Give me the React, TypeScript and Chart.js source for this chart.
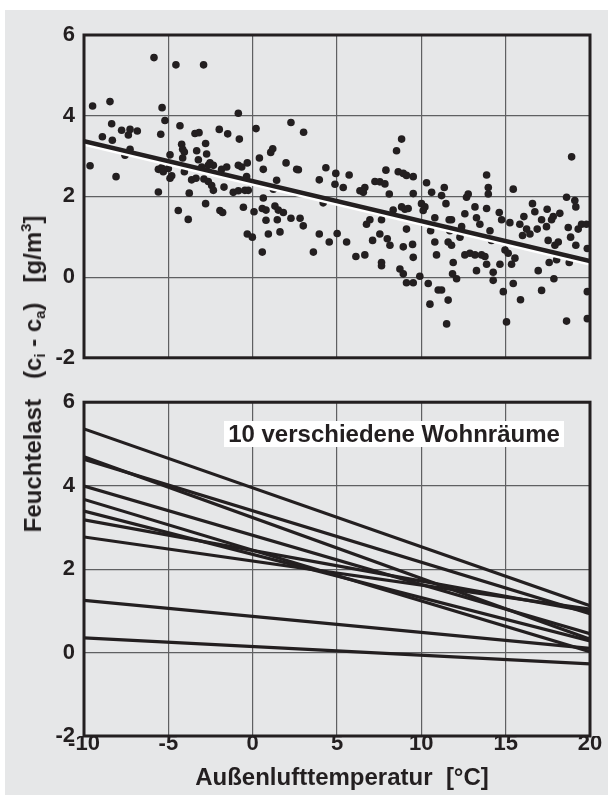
import React, { useEffect, useRef } from "react";
import { Chart, registerables } from "chart.js";

Chart.register(...registerables);

const FONT = "'Liberation Sans', Arial, sans-serif";
const INK = "#231f20";
const BG = "#e6e7e8";
const GRID = "#5f6062";

// Top panel: measured points (Außenlufttemperatur °C, Feuchtelast g/m³)
const tempX = [
  -5.85, -4.55, -2.91, -9.49, -8.46, -5.37, -0.85, 2.27, 3.02, -8.36,
  -5.2, -4.31, -8.91, -8.32, -7.77, -7.37, -7.27, -6.84, -5.45, -9.64,
  -8.1, -7.57, -7.27, -5.59, -5.4, -5.3, -5.59, -4.9, -5.0, -4.9,
  -4.8, -4.21, -4.15, -4.05, -4.15, -4.05, -3.62, -3.76, -4.41, -3.82,
  -3.42, -3.18, -2.79, -2.73, -3.32, -3.22, -2.53, -2.63, -2.33, -3.02,
  -3.36, -2.89, -2.63, -2.43, -2.33, -2.79, -1.94, -1.78, -1.98, -1.48,
  -1.84, -1.54, -1.7, -1.15, -0.85, -0.85, -0.79, -0.65, -0.32, -0.36,
  -0.46, -0.26, -0.55, -0.32, -0.02, 0.08, 0.2, 0.4, 0.63, 0.63,
  0.57, 0.79, 0.79, 0.93, 0.57, 1.07, 1.19, 1.42, 1.23, 1.32,
  1.52, 1.46, 1.82, 1.62, 1.98, 2.61, 2.71, 2.27, 2.81, 3.0,
  3.6, 3.95, 3.95,
  4.34, 4.18, 4.54, 4.93, 4.88, 5.37, 5.72, 5.01, 5.57, 6.12,
  6.36, 6.65, 6.56, 6.65, 6.75, 6.95, 7.11, 7.25, 7.54, 7.84,
  7.54, 7.64, 7.98, 7.64, 7.64, 7.9, 8.1, 8.14, 8.53, 8.83,
  8.63, 8.93, 9.12, 8.33, 8.83, 9.12, 8.93, 8.73, 8.93, 9.12,
  9.52, 9.48, 9.52, 9.52, 9.52, 9.03, 9.22, 9.91, 10.01, 10.11,
  10.21, 10.31, 10.41, 10.51, 10.55, 10.61, 10.8, 10.9, 10.8, 11.0,
  11.2, 11.2, 11.36, 11.46, 11.5, 11.59, 11.65, 11.79, 11.59, 11.79,
  11.69, 11.85, 12.09, 11.89, 12.29, 12.39, 12.58, 12.68, 12.78, 12.58,
  12.88, 13.18, 13.27, 13.47, 13.18, 13.27, 13.57, 13.77, 13.87, 13.97,
  13.97, 13.87, 14.07, 14.16, 13.87, 14.26, 14.26, 14.62, 14.76, 14.66,
  14.86, 15.05, 14.96, 15.15, 15.35, 15.45, 15.25, 15.55, 15.45, 15.88,
  15.84, 16.0, 16.08, 16.24, 16.44, 16.59, 16.73, 16.87, 16.93, 17.13,
  17.13, 17.42, 17.46, 17.52, 17.58, 17.72, 17.82, 17.92, 17.86, 18.02,
  18.12, 18.21, 18.61, 18.61, 18.71, 18.85, 18.91, 19.1, 19.16, 19.16,
  19.3, 19.5, 19.8, 19.84, 19.84, 19.84, 18.77,
];
const loadY = [
  5.44, 5.26, 5.26, 4.24, 4.35, 4.2, 4.06, 3.83, 3.59, 3.8,
  3.88, 3.75, 3.48, 3.39, 3.64, 3.52, 3.66, 3.62, 3.54, 2.76,
  2.49, 3.02, 3.17, 2.67, 2.71, 2.61, 2.11, 3.03, 2.69, 2.45,
  2.51, 3.29, 3.17, 3.1, 2.95, 2.61, 2.41, 2.08, 1.65, 1.43,
  3.56, 3.58, 3.31, 3.05, 3.13, 2.91, 2.83, 2.77, 2.77, 2.73,
  2.45, 2.43, 2.37, 2.27, 2.15, 1.82, 1.65, 1.6, 3.66, 3.55,
  2.67, 2.73, 2.23, 2.1, 2.14, 2.77, 3.42, 2.73, 2.83, 2.49,
  2.15, 2.15, 1.73, 1.07, 0.99, 1.62, 3.68, 2.95, 2.67, 1.96,
  1.7, 1.66, 1.41, 1.07, 0.62, 3.09, 3.18, 2.4, 2.18, 1.76,
  1.66, 1.42, 1.6, 1.12, 2.83, 2.67, 2.66, 1.46, 1.46, 1.27,
  0.62, 2.41, 1.07,
  2.71, 1.84, 0.87, 2.57, 2.3, 2.22, 2.53, 1.08, 0.87, 0.51,
  2.14, 2.22, 2.1, 0.55, 1.31, 1.42, 0.91, 2.37, 2.36, 2.31,
  1.07, 1.42, 0.95, 0.36, 0.28, 2.65, 2.06, 0.79, 3.13, 3.42,
  2.61, 2.57, 2.52, 1.66, 1.74, 1.19, 0.75, 0.2, 0.08, -0.14,
  -0.14, 0.81, 0.49, 2.49, 2.07, 1.68, 1.7, 0.02, 1.82, 1.65,
  1.74, 2.34, -0.16, -0.67, 1.15, 2.1, 1.47, 0.55, 0.87, -0.32,
  -0.32, 2.02, 2.22, 1.82, -1.16, -0.57, 1.42, 1.42, 0.87, 0.79,
  1.15, 0.08, -0.04, 0.36, 0.99, 1.25, 1.57, 1.98, 2.06, 0.55,
  0.59, 1.74, 1.47, 1.31, 0.55, 0.16, 0.55, 0.51, 2.53, 2.22,
  2.06, 1.7, 1.15, 0.91, 0.32, 0.12, -0.08, 1.6, 1.42, 0.32,
  -0.36, -1.11, 0.67, 0.59, 0.32, 2.18, 1.35, 0.47, -0.16, -0.56,
  1.31, 1.03, 1.5, 1.19, 1.07, 1.82, 1.62, 1.19, 0.16, -0.33,
  1.42, 1.25, 1.68, 0.91, 0.36, 1.42, 1.5, 0.79, -0.04, 0.43,
  0.87, 1.58, 1.98, -1.09, 1.23, 0.99, 2.98, 1.9, 1.74, 0.79,
  1.19, 1.31, 1.31, 0.71, -0.36, -1.03, 0.36,
];

// Regression line of the top panel
const regressionX = [-10, 20];
const regressionY = [3.37, 0.4];

// Bottom panel: 10 rooms, value at -10 °C and at 20 °C
const roomX = [-10, 20];
const roomStart = [5.36, 4.63, 4.69, 3.99, 3.67, 3.39, 3.18, 2.77, 1.25, 0.35];
const roomEnd = [1.12, 0.93, 0.32, 0.45, 0.02, 0.28, 0.98, 1.04, 0.1, -0.27];

const xMin = -10, xMax = 20, xStep = 5;
const yMin = -2, yMax = 6, yStep = 2;

const framePlugin = {
  id: "frame",
  afterDatasetsDraw(chart: any) {
    const { ctx, chartArea: a } = chart;
    ctx.save();
    ctx.strokeStyle = INK;
    ctx.lineWidth = 3;
    ctx.strokeRect(a.left, a.top, a.right - a.left, a.bottom - a.top);
    ctx.restore();
  },
};

const shadowPlugin = {
  id: "whiteShadow",
  beforeDatasetDraw(chart: any, args: any) {
    const ds = chart.data.datasets[args.index];
    if (ds.whiteShadow) {
      const ctx = chart.ctx;
      ctx.save();
      ctx.shadowColor = "#ffffff";
      ctx.shadowOffsetX = 0;
      ctx.shadowOffsetY = 2.5;
      ctx.shadowBlur = 0;
    }
  },
  afterDatasetDraw(chart: any, args: any) {
    const ds = chart.data.datasets[args.index];
    if (ds.whiteShadow) chart.ctx.restore();
  },
};

function makeScales(showX: boolean) {
  const tickFont = { family: FONT, size: 22, weight: "bold" as const };
  return {
    x: {
      type: "linear" as const,
      min: xMin,
      max: xMax,
      ticks: {
        stepSize: xStep,
        display: showX,
        font: tickFont,
        color: INK,
        padding: -5,
        maxRotation: 0,
        autoSkip: false,
      },
      grid: { color: GRID, lineWidth: 1.2, drawTicks: false },
      border: { display: false },
      afterFit: (s: any) => {
        s.height = showX ? 30 : 0;
      },
    },
    y: {
      type: "linear" as const,
      min: yMin,
      max: yMax,
      ticks: { stepSize: yStep, font: tickFont, color: INK, padding: 9 },
      grid: { color: GRID, lineWidth: 1.2, drawTicks: false },
      border: { display: false },
      afterFit: (s: any) => {
        s.width = 84;
      },
    },
  };
}

const basePlugins = {
  legend: { display: false },
  tooltip: { enabled: false },
};

export default function App() {
  const topRef = useRef<HTMLCanvasElement>(null);
  const botRef = useRef<HTMLCanvasElement>(null);

  useEffect(() => {
    const scatterPoints = tempX.map((x, i) => ({ x, y: loadY[i] }));
    const regPoints = regressionX.map((x, i) => ({ x, y: regressionY[i] }));

    const top = new Chart(topRef.current!, {
      type: "scatter",
      data: {
        datasets: [
          {
            data: regPoints,
            showLine: true,
            borderColor: INK,
            borderWidth: 4.5,
            pointRadius: 0,
            order: 0,
            whiteShadow: true,
          } as any,
          {
            data: scatterPoints,
            backgroundColor: INK,
            borderColor: INK,
            borderWidth: 0,
            pointRadius: 3.8,
            order: 1,
          },
        ],
      },
      options: {
        animation: false,
        responsive: false,
        layout: { padding: { left: 0, top: 35, right: 21, bottom: 8 } },
        scales: makeScales(false) as any,
        plugins: basePlugins as any,
      },
      plugins: [shadowPlugin, framePlugin],
    });

    const bot = new Chart(botRef.current!, {
      type: "scatter",
      data: {
        datasets: roomStart.map((s, i) => ({
          data: [
            { x: roomX[0], y: s },
            { x: roomX[1], y: roomEnd[i] },
          ],
          showLine: true,
          borderColor: INK,
          borderWidth: 3.2,
          pointRadius: 0,
          fill: false,
        })),
      },
      options: {
        animation: false,
        responsive: false,
        layout: { padding: { left: 0, top: 19, right: 21, bottom: 32 } },
        scales: makeScales(true) as any,
        plugins: basePlugins as any,
      },
      plugins: [framePlugin],
    });

    return () => {
      top.destroy();
      bot.destroy();
    };
  }, []);

  const sub: React.CSSProperties = { fontSize: "0.62em", verticalAlign: "-0.3em", lineHeight: 0 };
  const sup: React.CSSProperties = { fontSize: "0.62em", verticalAlign: "0.7em", lineHeight: 0 };

  return (
    <div
      style={{
        position: "absolute",
        left: 0,
        top: 0,
        width: 611,
        height: 798,
        background: "#ffffff",
        overflow: "hidden",
        fontFamily: FONT,
      }}
    >
      <div style={{ position: "absolute", left: 5, top: 10, width: 603, height: 785, background: BG }} />
      <canvas
        ref={topRef}
        width={611}
        height={380}
        style={{ position: "absolute", left: 0, top: 0, width: 611, height: 380 }}
      />
      <canvas
        ref={botRef}
        width={611}
        height={418}
        style={{ position: "absolute", left: 0, top: 380, width: 611, height: 418 }}
      />
      <div
        style={{
          position: "absolute",
          left: 224,
          top: 421,
          width: 340,
          height: 26,
          background: "#ffffff",
          display: "flex",
          alignItems: "center",
          justifyContent: "center",
          fontWeight: "bold",
          fontSize: 24,
          color: INK,
          whiteSpace: "nowrap",
        }}
      >
        10 verschiedene Wohnräume
      </div>
      <div
        style={{
          position: "absolute",
          left: 342,
          top: 777,
          transform: "translate(-50%, -50%)",
          fontWeight: "bold",
          fontSize: 24,
          color: INK,
          whiteSpace: "nowrap",
          lineHeight: 1,
        }}
      >
        Außenlufttemperatur&nbsp;&nbsp;[°C]
      </div>
      <div
        style={{
          position: "absolute",
          left: 33,
          top: 374,
          transform: "translate(-50%, -50%) rotate(-90deg)",
          fontWeight: "bold",
          fontSize: 24,
          color: INK,
          whiteSpace: "nowrap",
          lineHeight: 1,
        }}
      >
        Feuchtelast&nbsp;&nbsp;&nbsp;(c<span style={sub}>i</span> - c<span style={sub}>a</span>)&nbsp;&nbsp;&nbsp;[g/m
        <span style={sup}>3</span>]
      </div>
    </div>
  );
}
